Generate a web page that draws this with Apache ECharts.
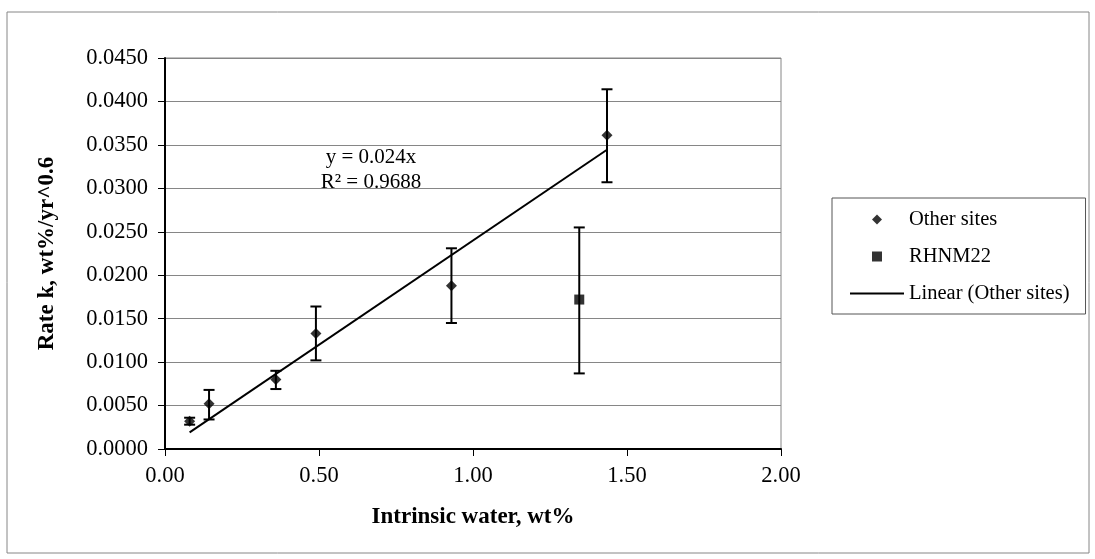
<!DOCTYPE html>
<html>
<head>
<meta charset="utf-8">
<script src="https://cdn.jsdelivr.net/npm/echarts@6/dist/echarts.min.js"></script>
<style>
html,body{margin:0;padding:0;background:#fff;}
#chart{width:1095px;height:559px;}
</style>
</head>
<body>
<div id="chart"></div>
<script>
// ---- data ----
const xTicks = [0.0, 0.5, 1.0, 1.5, 2.0];
const yTicks = [0.0000, 0.0050, 0.0100, 0.0150, 0.0200, 0.0250, 0.0300, 0.0350, 0.0400, 0.0450];
const otherX = [0.08, 0.143, 0.36, 0.49, 0.93, 1.435];
const otherY = [0.0032, 0.0052, 0.0080, 0.0133, 0.0188, 0.0361];
const otherLow = [0.0028, 0.0034, 0.0069, 0.0102, 0.0145, 0.0307];
const otherHigh = [0.0036, 0.0068, 0.0090, 0.0164, 0.0231, 0.0414];
const rhnmX = [1.345];
const rhnmY = [0.0172];
const rhnmLow = [0.0087];
const rhnmHigh = [0.0255];
const trendX = [0.08, 1.435];
const trendY = [0.00192, 0.03444];
const eqLines = ['y = 0.024x', 'R² = 0.9688'];

const FONT = "'Liberation Serif','Times New Roman',serif";

const otherPts = otherX.map((x, i) => [x, otherY[i]]);
const rhnmPts = rhnmX.map((x, i) => [x, rhnmY[i]]);
const errData = otherX.map((x, i) => [x, otherLow[i], otherHigh[i]])
  .concat(rhnmX.map((x, i) => [x, rhnmLow[i], rhnmHigh[i]]));
const trendPts = trendX.map((x, i) => [x, trendY[i]]);

function renderErr(params, api) {
  const x = api.value(0);
  const lo = api.coord([x, api.value(1)]);
  const hi = api.coord([x, api.value(2)]);
  const hw = 5.5;
  const st = {stroke: '#000', lineWidth: 2};
  return {
    type: 'group',
    children: [
      {type: 'line', shape: {x1: lo[0], y1: lo[1], x2: hi[0], y2: hi[1]}, style: st},
      {type: 'line', shape: {x1: lo[0] - hw, y1: lo[1], x2: lo[0] + hw, y2: lo[1]}, style: st},
      {type: 'line', shape: {x1: hi[0] - hw, y1: hi[1], x2: hi[0] + hw, y2: hi[1]}, style: st}
    ]
  };
}

const chart = echarts.init(document.getElementById('chart'), null, {renderer: 'canvas'});
chart.setOption({
  animation: false,
  backgroundColor: '#fff',
  textStyle: {fontFamily: FONT},
  grid: {left: 165, right: 314, top: 58, bottom: 110, show: true, borderColor: '#868686', borderWidth: 1},
  xAxis: {
    type: 'value', min: xTicks[0], max: xTicks[xTicks.length - 1], interval: 0.5,
    name: 'Intrinsic water, wt%', nameLocation: 'middle', nameGap: 57,
    nameTextStyle: {fontFamily: FONT, fontSize: 23, fontWeight: 'bold', color: '#000'},
    axisLine: {show: true, onZero: false, lineStyle: {color: '#000', width: 2}},
    axisTick: {show: true, inside: false, length: 7, lineStyle: {color: '#000', width: 1}},
    axisLabel: {fontFamily: FONT, fontSize: 22.5, color: '#000', margin: 16, formatter: v => v.toFixed(2)},
    splitLine: {show: false}
  },
  yAxis: {
    type: 'value', min: yTicks[0], max: yTicks[yTicks.length - 1], interval: 0.005,
    name: 'Rate k, wt%/yr^0.6', nameLocation: 'middle', nameGap: 106,
    nameTextStyle: {fontFamily: FONT, fontSize: 23, fontWeight: 'bold', color: '#000'},
    axisLine: {show: true, onZero: false, lineStyle: {color: '#000', width: 2}},
    axisTick: {show: true, inside: false, length: 7, lineStyle: {color: '#000', width: 1}},
    axisLabel: {fontFamily: FONT, fontSize: 22.5, color: '#000', margin: 17, formatter: v => v.toFixed(4)},
    splitLine: {show: true, lineStyle: {color: '#868686', width: 1}}
  },
  legend: {
    orient: 'vertical', left: 832, top: 198,
    width: 252,
    padding: [11, 16, 10, 18],
    borderColor: '#555', borderWidth: 1,
    itemWidth: 54, itemHeight: 10, itemGap: 16,
    symbolKeepAspect: true,
    textStyle: {fontFamily: FONT, fontSize: 20.5, color: '#000', padding: [0, 0, 0, 0]},
    data: [
      {name: 'Other sites', icon: 'path://M4,0L8,4L4,8L0,4Z'},
      {name: 'RHNM22', icon: 'path://M0,0H10V10H0Z'},
      {name: 'Linear (Other sites)', icon: 'path://M0,0H54V2H0Z'}
    ]
  },
  graphic: [
    {type: 'rect', shape: {x: 7, y: 12, width: 1082, height: 541}, style: {fill: 'none', stroke: '#868686', lineWidth: 1}, silent: true, z: -10},
    {type: 'text', x: 371, y: 157, style: {text: eqLines[0], font: '21px ' + FONT, fill: '#000', align: 'center', verticalAlign: 'middle'}},
    {type: 'text', x: 371, y: 182, style: {text: eqLines[1], font: '21px ' + FONT, fill: '#000', align: 'center', verticalAlign: 'middle'}}
  ],
  series: [
    {
      name: 'Linear (Other sites)', type: 'line', data: trendPts, symbol: 'none',
      lineStyle: {color: '#000', width: 2}, itemStyle: {color: '#000'}, z: 3
    },
    {
      name: 'errbars', type: 'custom', renderItem: renderErr, data: errData,
      encode: {x: 0, y: [1, 2]}, z: 4, silent: true
    },
    {
      name: 'Other sites', type: 'scatter', data: otherPts, symbol: 'diamond', symbolSize: 11,
      itemStyle: {color: '#000'}, z: 5
    },
    {
      name: 'RHNM22', type: 'scatter', data: rhnmPts, symbol: 'rect', symbolSize: 10,
      itemStyle: {color: '#000'}, z: 5
    }
  ]
});
</script>
</body>
</html>
